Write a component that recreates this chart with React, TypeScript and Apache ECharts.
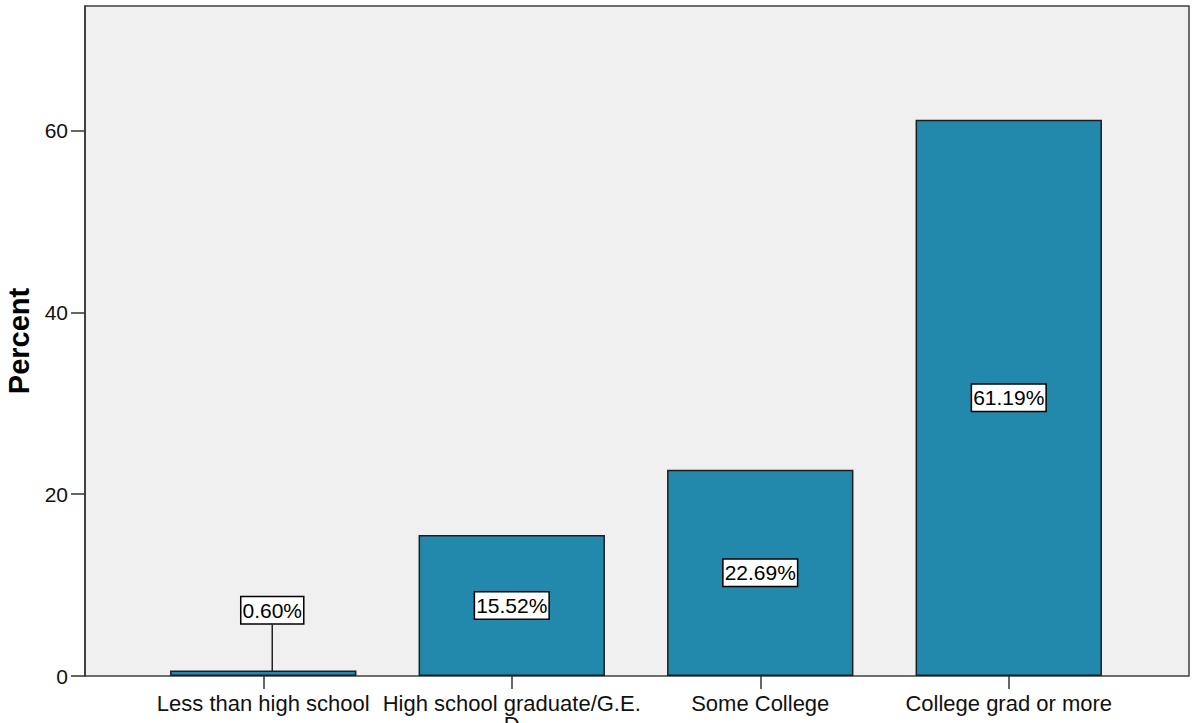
import React, { useEffect, useRef } from "react";
import * as echarts from "echarts";

const categories = ["Less than high school", "High school graduate/G.E.\nD", "Some College", "College grad or more"];
const percents = [0.6, 15.52, 22.69, 61.19];
const yTicks = [0, 20, 40, 60];
const yMax = 73.7;

const FONT = '"Liberation Sans", Arial, sans-serif';

export default function App() {
  const ref = useRef<HTMLDivElement>(null);
  useEffect(() => {
    if (!ref.current) return;
    const chart = echarts.init(ref.current, undefined, { renderer: "svg" });
    chart.setOption({
      animation: false,
      backgroundColor: "#ffffff",
      textStyle: { fontFamily: FONT },
      grid: [
        { left: 85, right: 4, top: 6, bottom: 47, show: true, backgroundColor: "#f0f0f0", borderColor: "#404040", borderWidth: 1.5, outerBoundsMode: "none", containLabel: false },
        { left: 139, width: 994, top: 6, bottom: 47, outerBoundsMode: "none", containLabel: false },
      ],
      xAxis: [
        { gridIndex: 0, type: "value", min: 0, max: 1, show: false },
        {
          gridIndex: 1,
          type: "category",
          data: categories,
          axisLine: { show: false },
          axisTick: { show: true, alignWithLabel: true, length: 13, lineStyle: { color: "#333", width: 1.5 } },
          axisLabel: { interval: 0, fontSize: 22, color: "#111", margin: 17, lineHeight: 21, fontFamily: FONT },
        },
      ],
      yAxis: [
        {
          gridIndex: 0,
          type: "value",
          min: 0,
          max: yMax,
          name: "Percent",
          nameLocation: "middle",
          nameGap: 52,
          nameTextStyle: { fontSize: 29, fontWeight: "bold", color: "#000", fontFamily: FONT },
          axisLine: { show: true, lineStyle: { color: "#333", width: 1.5 } },
          axisTick: { show: true, length: 14, customValues: yTicks, lineStyle: { color: "#333", width: 1.5 } },
          axisLabel: { fontSize: 21, color: "#111", margin: 17, customValues: yTicks, fontFamily: FONT },
          splitLine: { show: false },
        },
        { gridIndex: 1, type: "value", min: 0, max: yMax, show: false },
      ],
      series: [
        {
          type: "bar",
          xAxisIndex: 1,
          yAxisIndex: 1,
          data: percents,
          barWidth: "75%",
          itemStyle: { color: "#2389ac", borderColor: "#1e1e1e", borderWidth: 1.5 },
          label: {
            show: true,
            position: "inside",
            formatter: (p: any) => p.value.toFixed(2) + "%",
            backgroundColor: "#ffffff",
            borderColor: "#000",
            borderWidth: 1.5,
            padding: [3, 1, 2, 1],
            color: "#000",
            fontSize: 21,
            fontFamily: FONT,
          },
          labelLayout: (params: any) => (params.dataIndex === 0 ? { dx: 9, dy: -63 } : {}),
          labelLine: { show: true, lineStyle: { color: "#222", width: 1.5 } },
        },
      ],
    });
    return () => chart.dispose();
  }, []);
  return <div ref={ref} style={{ width: 1193, height: 723, position: "absolute", left: 0, top: 0 }} />;
}
